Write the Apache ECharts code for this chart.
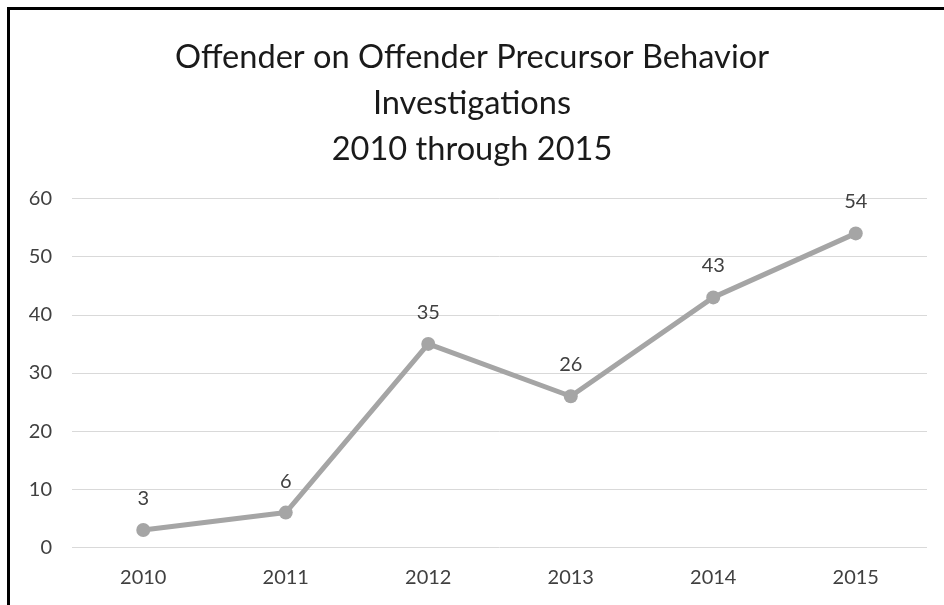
<!DOCTYPE html>
<html>
<head>
<meta charset="utf-8">
<script src="https://cdn.jsdelivr.net/npm/echarts@6/dist/echarts.min.js"></script>
<style>
html,body{margin:0;padding:0;background:#fff;}
#frame{position:absolute;left:7px;top:7px;width:960px;height:620px;border-top:3px solid #000;border-left:3px solid #000;box-sizing:border-box;}
#chart{position:absolute;left:0;top:0;width:944px;height:605px;}
</style>
</head>
<body>
<div id="chart"></div>
<div id="frame"></div>
<script>
const categories = ['2010','2011','2012','2013','2014','2015'];
const values = [3, 6, 35, 26, 43, 54];
const titleLines = ['Offender on Offender Precursor Behavior','Investigations','2010 through 2015'];

const chart = echarts.init(document.getElementById('chart'));
chart.setOption({
  animation: false,
  title: {
    text: titleLines.join('\n'),
    left: 'center',
    top: 29,
    textStyle: {fontFamily: 'Lato', fontSize: 32.6, fontWeight: 'normal', color: '#1a1a1a', lineHeight: 46}
  },
  grid: {left: 72, right: 17, top: 198.5, bottom: 57.5, containLabel: false},
  xAxis: {
    type: 'category',
    data: categories,
    boundaryGap: true,
    axisLine: {show: false},
    axisTick: {show: false},
    axisLabel: {margin: 20, fontFamily: 'Lato', fontSize: 20, color: '#404040'}
  },
  yAxis: {
    type: 'value',
    min: 0, max: 60, interval: 10,
    axisLine: {show: false},
    axisTick: {show: false},
    splitLine: {lineStyle: {color: '#D9D9D9', width: 1}},
    axisLabel: {margin: 20, fontFamily: 'Lato', fontSize: 20, color: '#404040'}
  },
  series: [{
    type: 'line',
    data: values,
    symbol: 'circle',
    symbolSize: 14,
    lineStyle: {color: '#A5A5A5', width: 5},
    itemStyle: {color: '#A5A5A5'},
    label: {show: true, position: 'top', distance: 14.5, fontFamily: 'Lato', fontSize: 20, color: '#404040'}
  }]
});
</script>
</body>
</html>
